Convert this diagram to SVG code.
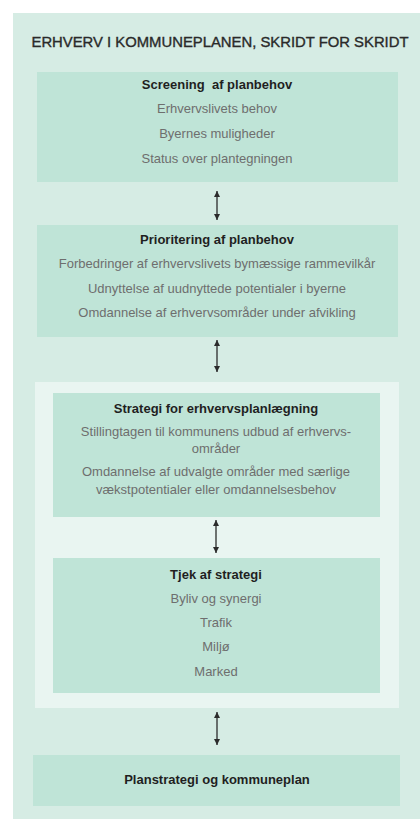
<svg xmlns="http://www.w3.org/2000/svg" width="420" height="819" viewBox="0 0 420 819">
<defs>
<marker id="ah" viewBox="0 0 10 10" refX="10" refY="5" markerWidth="7" markerHeight="6" orient="auto-start-reverse" markerUnits="userSpaceOnUse">
<path d="M0,0 L10,5 L0,10 Z" fill="#2b2b2b"/>
</marker>
<style>
.box{fill:#bfe4d7}
.t{font-family:"Liberation Sans",Arial,sans-serif;font-size:13px;font-weight:bold;fill:#1f1f1f;text-anchor:middle}
.i{font-family:"Liberation Sans",Arial,sans-serif;font-size:13px;fill:#6e6e6e;text-anchor:middle}
.c{stroke:#2b2b2b;stroke-width:1.3;fill:none}
</style>
</defs>
<rect x="0" y="0" width="420" height="819" fill="#ffffff"/>
<rect x="13" y="13" width="407" height="806" fill="#d6ece4"/>
<text x="220" y="47" font-family="'Liberation Sans',Arial,sans-serif" font-size="14.5" fill="#2a2a2a" stroke="#2a2a2a" stroke-width="0.35" text-anchor="middle" textLength="377" lengthAdjust="spacingAndGlyphs">ERHVERV I KOMMUNEPLANEN, SKRIDT FOR SKRIDT</text>
<rect id="container" x="35" y="382" width="364" height="326" fill="#e9f5f1"/>
<g id="screening">
<rect class="box" x="37" y="72" width="361" height="110"/>
<text class="t" x="217" y="89" xml:space="preserve">Screening  af planbehov</text>
<text class="i" x="217" y="113">Erhvervslivets behov</text>
<text class="i" x="217" y="138">Byernes muligheder</text>
<text class="i" x="217" y="163">Status over plantegningen</text>
</g>
<g id="prioritering">
<rect class="box" x="37" y="225" width="361" height="112"/>
<text class="t" x="217" y="244">Prioritering af planbehov</text>
<text class="i" x="217" y="268">Forbedringer af erhvervslivets bymæssige rammevilkår</text>
<text class="i" x="217" y="293">Udnyttelse af uudnyttede potentialer i byerne</text>
<text class="i" x="217" y="317">Omdannelse af erhvervsområder under afvikling</text>
</g>
<g id="strategi">
<rect class="box" x="53" y="393" width="327" height="124"/>
<text class="t" x="216" y="413">Strategi for erhvervsplanlægning</text>
<text class="i" x="216" y="436">Stillingtagen til kommunens udbud af erhvervs-</text>
<text class="i" x="216" y="453">områder</text>
<text class="i" x="216" y="476">Omdannelse af udvalgte områder med særlige</text>
<text class="i" x="216" y="494">vækstpotentialer eller omdannelsesbehov</text>
</g>
<g id="tjek">
<rect class="box" x="53" y="558" width="327" height="135"/>
<text class="t" x="216" y="579">Tjek af strategi</text>
<text class="i" x="216" y="603">Byliv og synergi</text>
<text class="i" x="216" y="627">Trafik</text>
<text class="i" x="216" y="651">Miljø</text>
<text class="i" x="216" y="676">Marked</text>
</g>
<g id="planstrategi">
<rect class="box" x="33" y="755" width="367" height="51"/>
<text class="t" x="217" y="784">Planstrategi og kommuneplan</text>
</g>
<g id="connectors">
<line class="c" x1="217" y1="191" x2="217" y2="220" marker-start="url(#ah)" marker-end="url(#ah)"/>
<line class="c" x1="217" y1="340" x2="217" y2="372" marker-start="url(#ah)" marker-end="url(#ah)"/>
<line class="c" x1="216" y1="520" x2="216" y2="553" marker-start="url(#ah)" marker-end="url(#ah)"/>
<line class="c" x1="217" y1="712" x2="217" y2="745" marker-start="url(#ah)" marker-end="url(#ah)"/>
</g>
</svg>
